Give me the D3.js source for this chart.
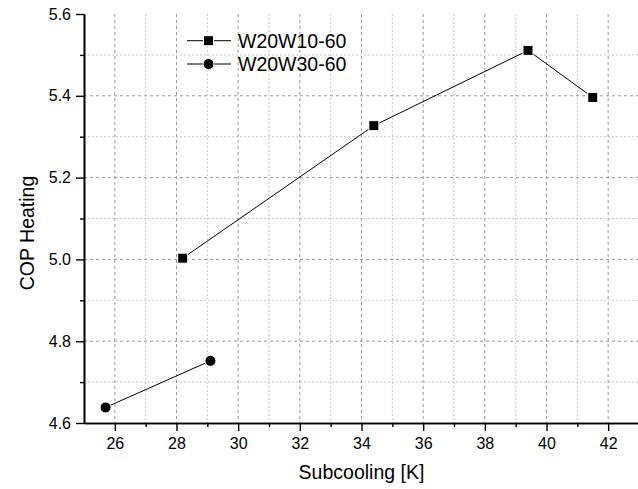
<!DOCTYPE html>
<html>
<head>
<meta charset="utf-8">
<script src="https://cdn.jsdelivr.net/npm/d3@7"></script>
<style>
  body { margin: 0; background: #fff; }
  svg { display: block; font-family: "Liberation Sans", Arial, sans-serif; }
</style>
</head>
<body>
<div id="chart"></div>
<script>
// series data
var w10Sub = [28.2, 34.4, 39.4, 41.5];
var w10Cop = [5.003, 5.327, 5.511, 5.396];
var w30Sub = [25.7, 29.1];
var w30Cop = [4.638, 4.752];
var seriesNames = ["W20W10-60", "W20W30-60"];

var xMajor = [26, 28, 30, 32, 34, 36, 38, 40, 42];
var xMinor = [27, 29, 31, 33, 35, 37, 39, 41];
var yMajor = [4.6, 4.8, 5.0, 5.2, 5.4, 5.6];
var yMinor = [4.7, 4.9, 5.1, 5.3, 5.5];

var width = 638, height = 489;
var pLeft = 84, pRight = 639, pTop = 14, pBottom = 423;

var svg = d3.select('#chart').append('svg')
    .attr('width', width)
    .attr('height', height);

var x = d3.scaleLinear().domain([25, 43]).range([pLeft, pRight]);
var y = d3.scaleLinear().domain([4.6, 5.6]).range([pBottom, pTop]);

// grid
var grid = svg.append('g');
grid.selectAll('.vmin').data(xMinor).enter().append('line')
    .attr('x1', d => x(d)).attr('x2', d => x(d))
    .attr('y1', pTop).attr('y2', pBottom)
    .attr('stroke', '#c8c8c8').attr('stroke-dasharray', '2,2');
grid.selectAll('.hmin').data(yMinor).enter().append('line')
    .attr('x1', pLeft).attr('x2', pRight)
    .attr('y1', d => y(d)).attr('y2', d => y(d))
    .attr('stroke', '#c8c8c8').attr('stroke-dasharray', '2,2');
grid.selectAll('.vmaj').data(xMajor).enter().append('line')
    .attr('x1', d => x(d)).attr('x2', d => x(d))
    .attr('y1', pTop).attr('y2', pBottom)
    .attr('stroke', '#999').attr('stroke-dasharray', '3,3');
grid.selectAll('.hmaj').data(yMajor.filter(d => d > 4.6 && d < 5.6)).enter().append('line')
    .attr('x1', pLeft).attr('x2', pRight)
    .attr('y1', d => y(d)).attr('y2', d => y(d))
    .attr('stroke', '#999').attr('stroke-dasharray', '3,3');

// axes
svg.append('g').attr('transform', 'translate(0,' + pBottom + ')')
    .call(d3.axisBottom(x).tickValues(xMajor).tickSize(8).tickPadding(7).tickSizeOuter(0));
svg.append('g').attr('transform', 'translate(0,' + pBottom + ')')
    .call(d3.axisBottom(x).tickValues(xMinor).tickSize(4).tickFormat('').tickSizeOuter(0));
svg.append('g').attr('transform', 'translate(' + pLeft + ',0)')
    .call(d3.axisLeft(y).tickValues(yMajor).tickSize(8).tickPadding(5)
      .tickFormat(d3.format('.1f')).tickSizeOuter(0));
svg.append('g').attr('transform', 'translate(' + pLeft + ',0)')
    .call(d3.axisLeft(y).tickValues(yMinor).tickSize(4).tickFormat('').tickSizeOuter(0));

svg.selectAll('.domain').attr('stroke-width', 1.6);
svg.selectAll('.tick line').attr('stroke-width', 1.4);
svg.selectAll('.tick text').attr('font-size', 16).attr('fill', '#000')
    .attr('font-family', '"Liberation Sans", Arial, sans-serif');

// axis titles
svg.append('text')
    .attr('x', 361.5).attr('y', 479)
    .attr('text-anchor', 'middle').attr('font-size', 19.5)
    .text('Subcooling [K]');
svg.append('text')
    .attr('transform', 'translate(34,233) rotate(-90)')
    .attr('text-anchor', 'middle').attr('font-size', 19.5)
    .text('COP Heating');

// lines and markers
var line = d3.line().x(d => x(d[0])).y(d => y(d[1]));
var w10 = d3.zip(w10Sub, w10Cop);
var w30 = d3.zip(w30Sub, w30Cop);

svg.append('path').datum(w10).attr('d', line)
    .attr('fill', 'none').attr('stroke', '#000').attr('stroke-width', 1);
svg.append('path').datum(w30).attr('d', line)
    .attr('fill', 'none').attr('stroke', '#000').attr('stroke-width', 1);

var sq = 10;
svg.selectAll('.sq').data(w10).enter().append('rect')
    .attr('x', d => x(d[0]) - sq / 2).attr('y', d => y(d[1]) - sq / 2)
    .attr('width', sq).attr('height', sq)
    .attr('fill', '#000').attr('stroke', '#fff').attr('stroke-width', 1);
svg.selectAll('.ci').data(w30).enter().append('circle')
    .attr('cx', d => x(d[0])).attr('cy', d => y(d[1])).attr('r', 5.5)
    .attr('fill', '#000').attr('stroke', '#fff').attr('stroke-width', 1);

// legend
var legend = svg.append('g');
var ly = [40.7, 64];
seriesNames.forEach(function (name, i) {
  legend.append('line')
      .attr('x1', 187).attr('x2', 231).attr('y1', ly[i]).attr('y2', ly[i])
      .attr('stroke', '#000').attr('stroke-width', 1);
  if (i === 0) {
    legend.append('rect').attr('x', 208.5 - sq / 2).attr('y', ly[i] - sq / 2)
        .attr('width', sq).attr('height', sq)
        .attr('fill', '#000').attr('stroke', '#fff').attr('stroke-width', 1);
  } else {
    legend.append('circle').attr('cx', 208.5).attr('cy', ly[i]).attr('r', 5.5)
        .attr('fill', '#000').attr('stroke', '#fff').attr('stroke-width', 1);
  }
  legend.append('text')
      .attr('x', 238).attr('y', ly[i] + 7)
      .attr('font-size', 19.5)
      .text(name);
});
</script>
</body>
</html>
